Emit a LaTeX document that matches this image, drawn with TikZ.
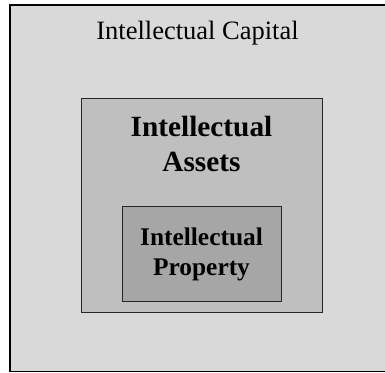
\documentclass[tikz,border=0pt]{standalone}
\usepackage{fontspec}
\setmainfont{Liberation Serif}
\begin{document}
\begin{tikzpicture}[x=1pt, y=-1pt,
  layer/.style={draw=black!85, line width=1.3pt, anchor=north west, inner sep=0pt},
  caption/.style={align=center, anchor=base, inner sep=0pt}]
  \clip (0, 0) rectangle (385, 372);
  \node[layer, draw=black, line width=1.5pt, fill=black!15,
    minimum width=400pt, minimum height=366.5pt] (capital) at (9, 4) {};
  \node[layer, fill=black!25, minimum width=241pt, minimum height=214pt] (assets) at (81, 98) {};
  \node[layer, fill=black!35, minimum width=159pt, minimum height=95pt] (property) at (122, 206) {};
  \node[caption, font=\fontsize{26.5}{30}\selectfont] (capitaltext) at (197.5, 39) {Intellectual Capital};
  \node[caption, font=\fontsize{29.3}{35}\selectfont\bfseries] (assetstext) at (201.5, 171.7) {Intellectual\\Assets};
  \node[caption, font=\fontsize{25.4}{29.5}\selectfont\bfseries] (propertytext) at (201.5, 275) {Intellectual\\Property};
\end{tikzpicture}
\end{document}
